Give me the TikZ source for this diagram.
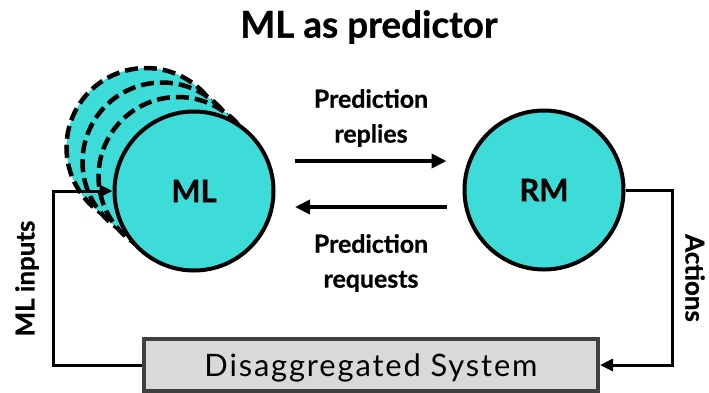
\documentclass[tikz,border=0pt]{standalone}
\usepackage{fontspec}
\setmainfont{Lato}
\newfontfamily\heavyfont{Lato}[FakeBold=0.8]
\usetikzlibrary{arrows.meta,calc}
\definecolor{mlcyan}{RGB}{62,220,216}
\definecolor{boxgray}{RGB}{217,217,217}
\definecolor{boxedge}{RGB}{64,64,64}

\begin{document}
\begin{tikzpicture}[x=1bp,y=-1bp,
  agent/.style={circle, draw=black, line width=4bp, fill=mlcyan,
    minimum size=159bp, inner sep=0pt,
    font=\heavyfont\bfseries\fontsize{31}{31}\selectfont},
  ghost/.style={agent, line width=4.5bp, dash pattern=on 13bp off 6bp},
  link/.style={line width=4bp, -{Triangle[length=15bp,width=14bp]}},
  wire/.style={line width=3bp, -{Triangle[length=13bp,width=12bp]}},
  lbl/.style={font=\heavyfont\bfseries\fontsize{25}{35}\selectfont, align=center},
  sidelbl/.style={font=\heavyfont\bfseries\fontsize{26}{26}\selectfont},
]
\useasboundingbox (0,0) rectangle (709,392);
\clip (0,0) rectangle (709,392);

% title
\node[font=\heavyfont\bfseries\fontsize{37}{37}\selectfont] (title) at (369,27) {ML as predictor};

% stacked ML instances, back to front
\node[ghost] (g1) at (146,147.5) {};
\node[ghost] (g2) at (162,162) {};
\node[ghost] (g3) at (178,176.5) {};
\node[agent] (ml) at (194,191) {ML};
\node[agent] (rm) at (544,190) {RM};

% system box
\node[draw=boxedge, fill=boxgray, line width=4bp, minimum width=454bp,
  minimum height=52bp, inner sep=0pt, text depth=0pt,
  font=\addfontfeatures{LetterSpace=6}\fontsize{31}{31}\selectfont]
  (sys) at (371,365) {Disaggregated System};

% prediction traffic
\draw[link] ($(ml.east)+(19.5,-30)$) -- ($(rm.west)+(-16,-29)$);
\draw[link] ($(rm.west)+(-16,17)$) -- ($(ml.east)+(19.5,16)$);
\node[lbl] (rep) at (371,118) {Prediction\\replies};
\node[lbl] (req) at (371,263) {Prediction\\requests};

% feedback loop
\coordinate (inL) at (53,0);
\coordinate (outR) at (672,0);
\draw[wire] (sys.west) -- (sys.west -| inL) -- (inL |- ml.west) -- (ml.west);
\draw[wire] (rm.east) -- (rm.east -| outR) -- (outR |- sys.east) -- (sys.east);
\node[sidelbl, rotate=90] (inlbl) at (27,278.5) {ML inputs};
\node[sidelbl, rotate=-90] (actlbl) at (695,278) {Actions};
\end{tikzpicture}
\end{document}
